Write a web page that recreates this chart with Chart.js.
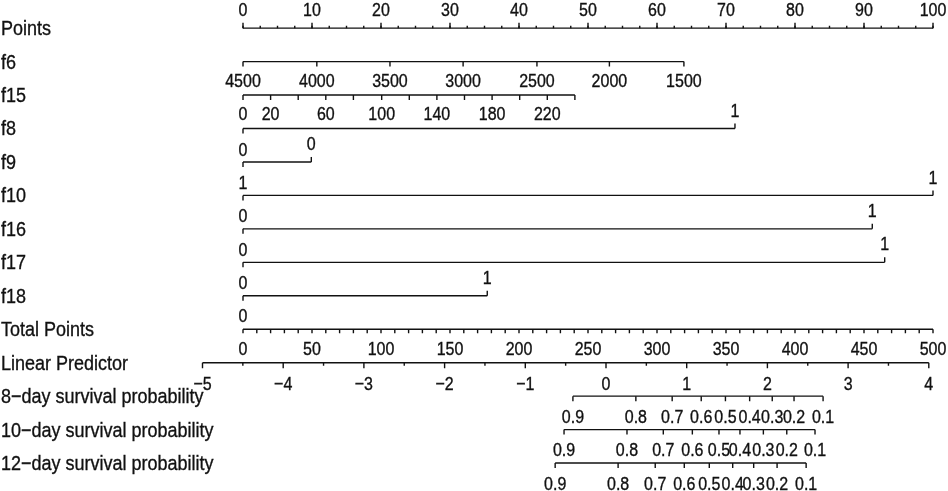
<!DOCTYPE html>
<html><head><meta charset="utf-8">
<script src="https://cdn.jsdelivr.net/npm/chart.js@4.4.1/dist/chart.umd.min.js"></script>
<style>html,body{margin:0;padding:0;background:#fff;}#wrap{width:948px;height:491px;position:relative;}</style>
</head><body><div id="wrap"><canvas id="c"></canvas></div>
<script>
// ---------- DATA ----------
const rowNames = ['Points','f6','f15','f8','f9','f10','f16','f17','f18','Total Points','Linear Predictor',
  '8\u2212day survival probability','10\u2212day survival probability','12\u2212day survival probability'];

const pointsTickValues = [0,10,20,30,40,50,60,70,80,90,100];
const pointsTickLabels = ['0','10','20','30','40','50','60','70','80','90','100'];

const f6Labels = ['4500','4000','3500','3000','2500','2000','1500'];
const f6Points = [0,10.7,21.3,31.9,42.6,53.1,63.9];

const f15Labels = ['0','20','','60','','100','','140','','180','','220',''];
const f15Points = [0,4.0,8.0,12.0,16.0,20.1,24.1,28.1,32.1,36.1,40.1,44.1,48.1];

const f8Levels = ['0','1'];  const f8Points = [0,71.3];
const f9Levels = ['0','0'];  const f9Points = [0,9.9];
const f10Levels = ['1','1']; const f10Points = [0,100];
const f16Levels = ['0','1']; const f16Points = [0,91.2];
const f17Levels = ['0','1']; const f17Points = [0,93.0];
const f18Levels = ['0','1']; const f18Points = [0,35.4];

const totalTickValues = [0,50,100,150,200,250,300,350,400,450,500];
const totalTickLabels = ['0','50','100','150','200','250','300','350','400','450','500'];
const totalExtraLabel = '0';

const lpTickValues = [-5,-4,-3,-2,-1,0,1,2,3,4];
const lpTickLabels = ['\u22125','\u22124','\u22123','\u22122','\u22121','0','1','2','3','4'];

const survLabels = ['0.9','0.8','0.7','0.6','0.5','0.4','0.3','0.2','0.1'];
const surv8LP  = [-0.41,0.37,0.82,1.18,1.48,1.78,2.06,2.33,2.69];
const surv10LP = [-0.52,0.26,0.71,1.07,1.40,1.66,1.95,2.24,2.59];
const surv12LP = [-0.63,0.15,0.61,0.97,1.28,1.57,1.83,2.12,2.48];

// ---------- CHART ----------
const INK = '#111';
const LW = 1.4;
function seg(axis, row, a, b) {
  return { xAxisID: axis, yAxisID: 'y', data: [{x: a, y: row}, {x: b, y: row}],
           showLine: true, borderColor: INK, borderWidth: LW, pointRadius: 0, fill: false };
}
const last = a => a[a.length - 1];
const datasets = [
  seg('x', 0, pointsTickValues[0], last(pointsTickValues)),
  seg('x', 1, f6Points[0], last(f6Points)),
  seg('x', 2, f15Points[0], last(f15Points)),
  seg('x', 3, f8Points[0], last(f8Points)),
  seg('x', 4, f9Points[0], last(f9Points)),
  seg('x', 5, f10Points[0], last(f10Points)),
  seg('x', 6, f16Points[0], last(f16Points)),
  seg('x', 7, f17Points[0], last(f17Points)),
  seg('x', 8, f18Points[0], last(f18Points)),
  seg('xTot', 9, totalTickValues[0], last(totalTickValues)),
  seg('xLP', 10, lpTickValues[0], last(lpTickValues)),
  seg('xLP', 11, surv8LP[0], last(surv8LP)),
  seg('xLP', 12, surv10LP[0], last(surv10LP)),
  seg('xLP', 13, surv12LP[0], last(surv12LP))
];

const FAMILY = '"Liberation Sans", Arial, sans-serif';
const VSTRETCH = 1.15;
const TICKSIZE = 16;
const ROWSIZE = 18;

const nomoPlugin = {
  id: 'nomo',
  afterDatasetsDraw(chart) {
    const ctx = chart.ctx;
    const sx = chart.scales.x, sT = chart.scales.xTot, sL = chart.scales.xLP, sy = chart.scales.y;
    const Y = r => sy.getPixelForValue(r);
    ctx.save();
    ctx.strokeStyle = INK; ctx.fillStyle = INK; ctx.lineWidth = LW;
    function text(t, x, cy, size, align) {
      ctx.save();
      ctx.font = size + 'px ' + FAMILY;
      ctx.textAlign = align; ctx.textBaseline = 'alphabetic';
      ctx.translate(x, cy + 0.358 * size * VSTRETCH);
      ctx.scale(1, VSTRETCH);
      ctx.fillText(t, 0, 0);
      ctx.lineWidth = 0.3; ctx.strokeStyle = INK;
      ctx.strokeText(t, 0, 0);
      ctx.restore();
    }
    function ticks(scale, vals, row, len) {
      const y = Y(row);
      ctx.beginPath();
      vals.forEach(v => { const x = scale.getPixelForValue(v); ctx.moveTo(x, y); ctx.lineTo(x, y + len); });
      ctx.stroke();
    }
    function labels(scale, vals, labs, row, dy) {
      vals.forEach((v, i) => { if (labs[i]) text(labs[i], scale.getPixelForValue(v), Y(row) + dy, TICKSIZE, 'center'); });
    }
    rowNames.forEach((n, r) => text(n, 1, Y(r) - 0.5, ROWSIZE, 'left'));

    const minor = [];
    for (let v = pointsTickValues[0]; v <= last(pointsTickValues) + 1e-9; v += 2.5) minor.push(v);
    ticks(sx, minor, 0, -2.5);
    ticks(sx, pointsTickValues, 0, -5.5);
    labels(sx, pointsTickValues, pointsTickLabels, 0, -19);

    ticks(sx, f6Points, 1, 5);
    labels(sx, f6Points, f6Labels, 1, 19);
    ticks(sx, f15Points, 2, 5);
    labels(sx, f15Points, f15Labels, 2, 18.5);

    [[3, f8Points, f8Levels], [4, f9Points, f9Levels], [5, f10Points, f10Levels],
     [6, f16Points, f16Levels], [7, f17Points, f17Levels], [8, f18Points, f18Levels]].forEach(([r, pts, lev]) => {
      ticks(sx, [pts[0]], r, 5);
      ticks(sx, [pts[1]], r, -5);
      if (r !== 3) labels(sx, [pts[0]], [lev[0]], r, -13);
      labels(sx, [pts[1]], [lev[1]], r, -18.5);
    });

    const tMinor = [];
    for (let v = totalTickValues[0]; v <= last(totalTickValues) + 1e-9; v += 10) tMinor.push(v);
    ticks(sT, tMinor, 9, 4);
    labels(sT, totalTickValues, totalTickLabels, 9, 19.5);
    labels(sT, [totalTickValues[0]], [totalExtraLabel], 9, -14);

    const lMinor = [];
    for (let v = lpTickValues[0] + 0.5; v < last(lpTickValues); v += 1) lMinor.push(v);
    ticks(sL, lMinor, 10, 3);
    ticks(sL, lpTickValues, 10, 5.5);
    labels(sL, lpTickValues, lpTickLabels, 10, 21);

    [[11, surv8LP], [12, surv10LP], [13, surv12LP]].forEach(([r, lp]) => {
      ticks(sL, lp, r, 5);
      labels(sL, lp, survLabels, r, 20);
    });
    ctx.restore();
  }
};

new Chart(document.getElementById('c'), {
  type: 'scatter',
  data: { datasets },
  plugins: [nomoPlugin],
  options: {
    responsive: true, maintainAspectRatio: false, animation: false, events: [],
    layout: { padding: 0 },
    plugins: { legend: { display: false }, tooltip: { enabled: false } },
    scales: {
      x:    { type: 'linear', display: false, min: -243 / 6.9, max: (948 - 243) / 6.9 },
      xTot: { type: 'linear', display: false, min: -243 / 1.38, max: (948 - 243) / 1.38 },
      xLP:  { type: 'linear', display: false, min: -606 / 80.7, max: (948 - 606) / 80.7 },
      y:    { type: 'linear', display: false, reverse: true, min: -28.15 / 33.454, max: (491 - 28.15) / 33.454 }
    }
  }
});
</script></body></html>
